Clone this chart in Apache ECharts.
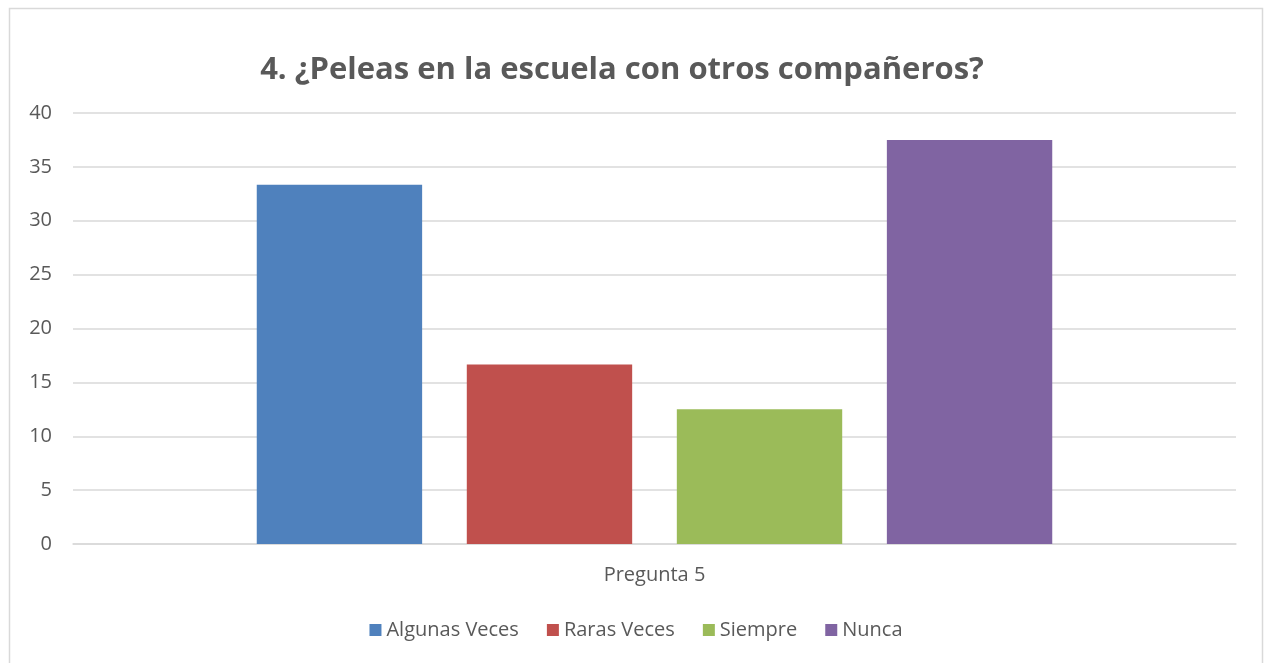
<!DOCTYPE html>
<html>
<head>
<meta charset="utf-8">
<script src="https://cdn.jsdelivr.net/npm/echarts@6/dist/echarts.min.js"></script>
<style>
  html, body { margin: 0; padding: 0; background: #fff; }
  #chart { width: 1272px; height: 663px; }
</style>
</head>
<body>
<div id="chart"></div>
<script>
const categories = ['Pregunta 5']
const seriesNames = ['Algunas Veces', 'Raras Veces', 'Siempre', 'Nunca']
const seriesValues = [[33.33], [16.67], [12.5], [37.5]]
const colors = ['#4f81bd', '#c0504d', '#9bbb59', '#8064a2']

const textColor = '#595959'
const fontFamily = "'Open Sans', 'Noto Sans', sans-serif"

const chart = echarts.init(document.getElementById('chart'))

chart.setOption({
  backgroundColor: '#fff',
  animation: false,
  color: colors,
  title: {
    text: '4. ¿Peleas en la escuela con otros compañeros?',
    left: 617,
    textAlign: 'center',
    top: 50,
    textStyle: { color: textColor, fontSize: 31, fontWeight: 'bold', fontFamily },
  },
  graphic: [{
    type: 'rect',
    shape: { x: 9.5, y: 8.5, width: 1253, height: 660 },
    style: { fill: 'none', stroke: '#d9d9d9', lineWidth: 1.5 },
    silent: true,
  }],
  legend: {
    bottom: 18,
    left: 'center',
    itemWidth: 12,
    itemHeight: 12,
    itemGap: 28,
    icon: 'rect',
    textStyle: { color: textColor, fontSize: 20, fontFamily },
    data: seriesNames,
  },
  grid: { left: 73, right: 36, top: 113, bottom: 119, containLabel: false },
  xAxis: {
    type: 'category',
    data: categories,
    axisLine: { lineStyle: { color: '#d9d9d9', width: 1.5 } },
    axisTick: { show: false },
    axisLabel: { color: textColor, fontSize: 20, fontFamily, margin: 21 },
  },
  yAxis: {
    type: 'value',
    min: 0,
    max: 40,
    interval: 5,
    axisLine: { show: false },
    axisTick: { show: false },
    axisLabel: { color: textColor, fontSize: 20, fontFamily, margin: 21 },
    splitLine: { lineStyle: { color: '#d9d9d9', width: 1.5 } },
  },
  series: seriesNames.map((name, i) => ({
    name,
    type: 'bar',
    data: seriesValues[i],
    barGap: '27%',
    barCategoryGap: '31.6%',
  })),
})
</script>
</body>
</html>
